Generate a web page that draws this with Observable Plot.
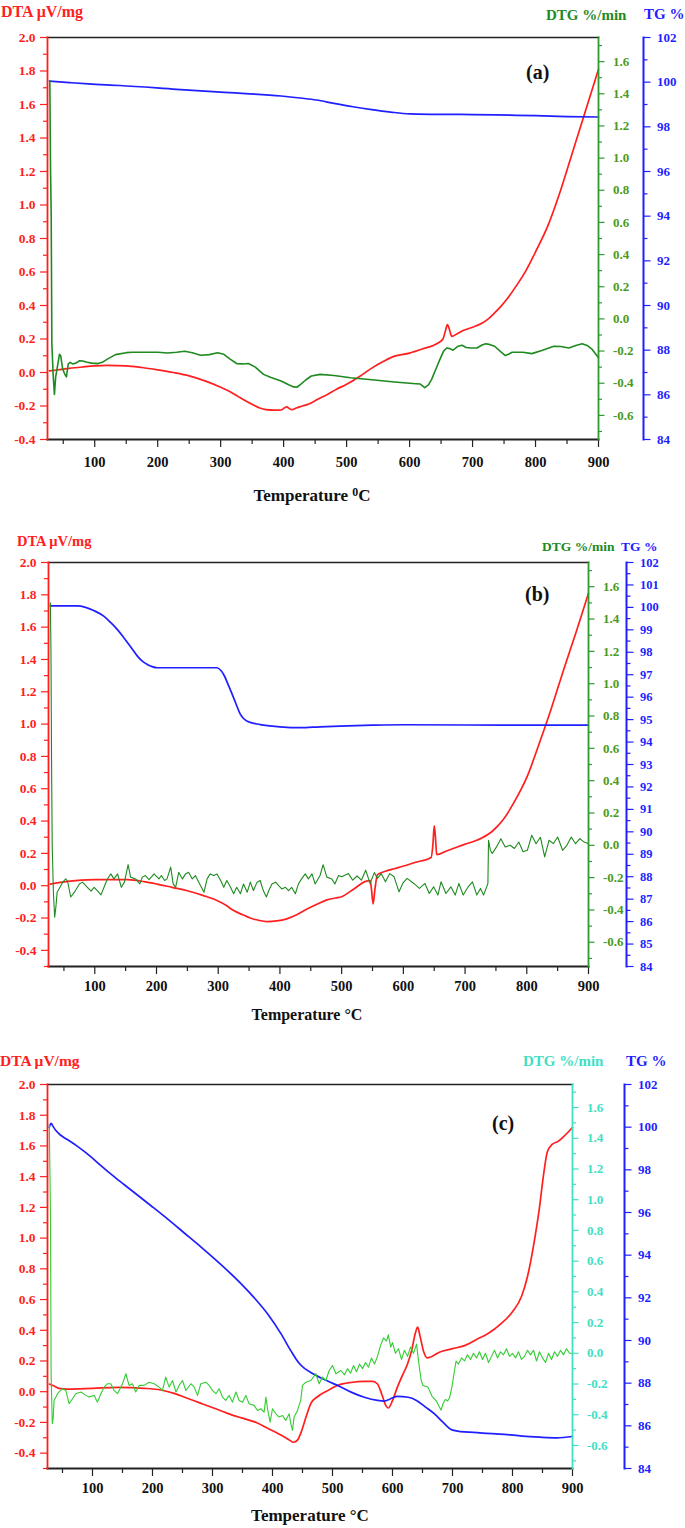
<!DOCTYPE html>
<html><head><meta charset="utf-8">
<script src="https://cdn.jsdelivr.net/npm/d3@7"></script>
<script src="https://cdn.jsdelivr.net/npm/@observablehq/plot@0.6"></script>
<style>
html,body{margin:0;padding:0;background:#fff;overflow:hidden}
#root{position:relative;width:685px;height:1528px;overflow:hidden;font-family:'Liberation Serif','Times New Roman',serif;font-weight:bold}
#root svg text{font-family:'Liberation Serif','Times New Roman',serif !important;font-weight:bold !important}
.lbl{position:absolute;white-space:nowrap;line-height:1;transform:translateY(-50%)}
.ctr{transform:translate(-50%,-50%)}
</style>
</head><body><div id="root"></div>
<script>
// ---------- tick labels ----------
const xTicks = [100,200,300,400,500,600,700,800,900];
const xMinor = [50,150,250,350,450,550,650,750,850];
const dtaTicks = [-0.4,-0.2,0,0.2,0.4,0.6,0.8,1.0,1.2,1.4,1.6,1.8,2.0];
const dtaMinor = [-0.5,-0.3,-0.1,0.1,0.3,0.5,0.7,0.9,1.1,1.3,1.5,1.7,1.9];
const dtgTicks = [-0.6,-0.4,-0.2,0,0.2,0.4,0.6,0.8,1.0,1.2,1.4,1.6];
const dtgMinor = [-0.7,-0.5,-0.3,-0.1,0.1,0.3,0.5,0.7,0.9,1.1,1.3,1.5,1.7];
const tgTicksEven = [84,86,88,90,92,94,96,98,100,102];
const tgMinorOdd = [85,87,89,91,93,95,97,99,101];
const tgTicksB = [84,85,86,87,88,89,90,91,92,93,94,95,96,97,98,99,100,101,102];
const tgMinorB = [84.5,85.5,86.5,87.5,88.5,89.5,90.5,91.5,92.5,93.5,94.5,95.5,96.5,97.5,98.5,99.5,100.5,101.5];

// ---------- panel (a) ----------
const dtaA = [[28,0.01],[40,0.015],[60,0.025],[80,0.033],[100,0.04],[120,0.042],[150,0.04],[175,0.03],[200,0.016],[225,0.0],[250,-0.02],[275,-0.05],[300,-0.088],[315,-0.115],[328,-0.144],[340,-0.17],[352,-0.194],[362,-0.212],[372,-0.222],[385,-0.225],[396,-0.224],[401,-0.212],[405,-0.205],[409,-0.215],[413,-0.222],[420,-0.212],[430,-0.2],[440,-0.188],[454,-0.16],[468,-0.134],[484,-0.1],[500,-0.07],[520,-0.025],[540,0.026],[558,0.065],[575,0.096],[600,0.116],[620,0.14],[645,0.176],[653,0.2],[657,0.25],[660,0.286],[663,0.26],[667,0.216],[675,0.23],[686,0.252],[700,0.27],[714,0.292],[725,0.32],[735,0.356],[745,0.395],[755,0.44],[770,0.52],[785,0.61],[800,0.72],[820,0.88],[840,1.09],[860,1.33],[880,1.57],[900,1.81]];
const dtgA = [[28.7,1.48],[29.8,0.93],[30.9,0.64],[31.9,-0.15],[34,-0.35],[36,-0.47],[38,-0.36],[41,-0.29],[44,-0.22],[46,-0.23],[49,-0.31],[52,-0.34],[55,-0.36],[58,-0.28],[61,-0.27],[65,-0.28],[70,-0.275],[76,-0.26],[81,-0.262],[88,-0.27],[95,-0.275],[105,-0.278],[112,-0.27],[120,-0.25],[133,-0.222],[150,-0.21],[160,-0.207],[200,-0.207],[216,-0.212],[230,-0.207],[243,-0.201],[255,-0.21],[268,-0.226],[282,-0.222],[295,-0.211],[305,-0.22],[315,-0.25],[326,-0.279],[335,-0.28],[344,-0.277],[355,-0.3],[368,-0.345],[380,-0.365],[396,-0.386],[408,-0.41],[416,-0.423],[421,-0.425],[427,-0.407],[435,-0.38],[444,-0.355],[458,-0.345],[480,-0.352],[506,-0.366],[540,-0.378],[576,-0.392],[610,-0.403],[617,-0.405],[624,-0.427],[630,-0.41],[635,-0.376],[642,-0.31],[648,-0.253],[654,-0.2],[659,-0.181],[664,-0.185],[669,-0.195],[676,-0.172],[683,-0.164],[690,-0.178],[697,-0.181],[707,-0.181],[715,-0.162],[721,-0.154],[728,-0.16],[735,-0.17],[745,-0.205],[752,-0.228],[757,-0.22],[763,-0.207],[780,-0.207],[794,-0.216],[810,-0.196],[829,-0.17],[840,-0.172],[853,-0.181],[864,-0.165],[874,-0.154],[882,-0.165],[890,-0.19],[900,-0.242]];
const tgA = [[28,100.05],[60,99.98],[90,99.92],[140,99.85],[230,99.68],[300,99.55],[396,99.38],[430,99.28],[452,99.2],[480,99.05],[510,98.9],[540,98.77],[570,98.66],[600,98.58],[640,98.56],[700,98.55],[760,98.52],[800,98.5],[850,98.46],[900,98.44]];

// ---------- panel (b) ----------
const dtaB = [[28,0.01],[56,0.027],[99,0.037],[153,0.037],[180,0.025],[201,0.01],[225,-0.01],[250,-0.031],[275,-0.06],[298,-0.092],[312,-0.12],[325,-0.154],[340,-0.18],[352,-0.2],[366,-0.215],[379,-0.222],[395,-0.218],[411,-0.205],[428,-0.178],[444,-0.144],[460,-0.115],[476,-0.088],[490,-0.076],[500,-0.068],[520,-0.02],[539,0.027],[546,0.031],[548,-0.01],[551,-0.113],[554,-0.02],[558,0.068],[571,0.089],[585,0.105],[599,0.12],[620,0.145],[645,0.175],[648,0.26],[650,0.37],[652,0.3],[654,0.192],[670,0.215],[698,0.254],[727,0.295],[745,0.34],[760,0.4],[780,0.52],[800,0.67],[822,0.9],[840,1.1],[860,1.34],[880,1.57],[900,1.81]];
const dtgB = [[28,1.5],[29,1.2],[30,0.5],[31,0.0],[33,-0.3],[35,-0.445],[37,-0.38],[39,-0.29],[42,-0.27],[48,-0.228],[53,-0.207],[56,-0.224],[61,-0.32],[67,-0.29],[75,-0.239],[80,-0.228],[88,-0.26],[94,-0.284],[99,-0.26],[104,-0.28],[110,-0.307],[115,-0.26],[120,-0.212],[126,-0.177],[131,-0.208],[137,-0.177],[143,-0.26],[148,-0.228],[154,-0.12],[158,-0.197],[166,-0.208],[173,-0.239],[177,-0.197],[182,-0.187],[188,-0.212],[196,-0.177],[204,-0.208],[208,-0.187],[213,-0.218],[217,-0.208],[223,-0.135],[227,-0.239],[231,-0.26],[236,-0.167],[242,-0.208],[247,-0.177],[252,-0.167],[258,-0.208],[263,-0.187],[270,-0.239],[277,-0.29],[282,-0.208],[287,-0.177],[293,-0.187],[298,-0.177],[304,-0.218],[309,-0.26],[314,-0.218],[320,-0.26],[325,-0.3],[330,-0.26],[336,-0.3],[341,-0.239],[347,-0.29],[352,-0.228],[357,-0.28],[363,-0.228],[368,-0.218],[373,-0.28],[378,-0.32],[382,-0.28],[387,-0.239],[393,-0.228],[398,-0.25],[403,-0.27],[409,-0.26],[414,-0.28],[419,-0.26],[425,-0.3],[430,-0.239],[435,-0.208],[441,-0.177],[446,-0.208],[452,-0.177],[457,-0.239],[465,-0.187],[470,-0.12],[476,-0.197],[484,-0.208],[489,-0.239],[495,-0.187],[500,-0.195],[511,-0.175],[518,-0.216],[525,-0.19],[532,-0.216],[539,-0.154],[546,-0.236],[553,-0.169],[558,-0.205],[564,-0.175],[571,-0.226],[578,-0.175],[585,-0.195],[593,-0.288],[599,-0.236],[606,-0.205],[617,-0.236],[626,-0.267],[635,-0.236],[642,-0.298],[649,-0.257],[656,-0.308],[661,-0.226],[669,-0.298],[677,-0.257],[684,-0.308],[690,-0.236],[697,-0.308],[705,-0.257],[712,-0.226],[719,-0.308],[725,-0.267],[730,-0.308],[737,-0.236],[738,0.031],[741,-0.03],[744,-0.051],[751,-0.01],[758,0.041],[765,-0.01],[773,0.0],[780,-0.02],[787,0.02],[794,-0.04],[801,-0.03],[808,0.062],[815,0.01],[822,0.05],[829,-0.072],[836,0.031],[843,0.01],[850,0.051],[858,-0.031],[865,0.0],[872,0.051],[879,0.01],[886,0.041],[893,0.02],[900,0.01]];
const tgB = [[28,100.07],[72,100.07],[99,99.85],[115,99.6],[126,99.32],[137,99.0],[147,98.65],[158,98.25],[169,97.83],[178,97.58],[185,97.46],[193,97.36],[201,97.31],[250,97.31],[298,97.31],[304,97.2],[309,97.0],[317,96.5],[325,95.97],[331,95.55],[336,95.23],[341,95.05],[347,94.93],[368,94.78],[400,94.68],[433,94.64],[465,94.68],[497,94.71],[550,94.75],[600,94.77],[700,94.76],[800,94.75],[900,94.75]];

// ---------- panel (c) ----------
const dtaC = [[28,0.05],[36,0.037],[44,0.022],[58,0.017],[100,0.022],[142,0.028],[186,0.022],[214,0.011],[236,-0.011],[258,-0.043],[281,-0.076],[303,-0.108],[325,-0.141],[347,-0.169],[369,-0.195],[392,-0.238],[414,-0.282],[428,-0.314],[435,-0.329],[442,-0.314],[447,-0.271],[456,-0.163],[464,-0.076],[475,-0.033],[492,0.007],[508,0.04],[531,0.06],[553,0.067],[567,0.067],[575,0.05],[582,-0.015],[589,-0.091],[593,-0.106],[600,-0.058],[608,0.028],[615,0.093],[625,0.18],[632,0.27],[638,0.38],[642,0.42],[646,0.36],[652,0.26],[658,0.22],[680,0.26],[700,0.28],[720,0.3],[740,0.34],[760,0.38],[780,0.44],[800,0.52],[815,0.62],[825,0.75],[835,0.95],[845,1.2],[852,1.42],[858,1.56],[866,1.61],[876,1.63],[885,1.66],[900,1.72]];
const dtgC = [[28,1.49],[30,0.9],[31,-0.13],[33,-0.458],[34.5,-0.42],[36,-0.307],[41.7,-0.263],[47,-0.242],[50,-0.231],[55.6,-0.242],[61,-0.328],[66.7,-0.296],[72,-0.263],[80.6,-0.252],[89,-0.274],[94.4,-0.285],[102.8,-0.274],[108.3,-0.318],[114,-0.263],[119.4,-0.22],[125,-0.198],[130.6,-0.198],[136,-0.242],[141.7,-0.263],[150,-0.198],[155.6,-0.133],[161,-0.209],[166.7,-0.198],[172,-0.252],[177.8,-0.209],[186,-0.209],[194.4,-0.188],[202.8,-0.198],[211,-0.22],[216.7,-0.242],[222,-0.155],[227.8,-0.22],[233.3,-0.177],[239,-0.252],[244.4,-0.209],[250,-0.177],[255.6,-0.242],[264,-0.198],[269.4,-0.22],[275,-0.274],[280.6,-0.198],[289,-0.188],[294.4,-0.209],[300,-0.242],[305.6,-0.263],[311,-0.231],[316.7,-0.285],[322,-0.307],[327.8,-0.274],[333.3,-0.318],[339,-0.252],[344.4,-0.307],[350,-0.318],[355.6,-0.274],[361,-0.328],[369.4,-0.339],[375,-0.372],[380.6,-0.361],[386,-0.383],[389,-0.285],[391.7,-0.361],[396,-0.448],[400,-0.361],[405.6,-0.394],[411,-0.415],[416.7,-0.405],[422,-0.437],[427.8,-0.394],[430.6,-0.459],[433.3,-0.502],[436,-0.415],[441.7,-0.372],[447,-0.307],[450,-0.209],[455.6,-0.188],[464,-0.177],[472,-0.133],[477.8,-0.198],[483.3,-0.155],[489,-0.177],[494.4,-0.112],[500,-0.079],[505.6,-0.133],[514,-0.112],[520,-0.14],[525,-0.1],[530,-0.13],[535,-0.08],[540,-0.12],[545,-0.07],[550,-0.1],[555,-0.06],[560,-0.09],[565,-0.03],[570,-0.07],[575,-0.02],[580,0.05],[585,0.1],[590,0.08],[593,0.12],[597,0.04],[600,0.07],[605,0.0],[610,0.03],[615,-0.04],[620,0.02],[625,-0.02],[630,0.04],[635,0.0],[640,0.06],[645,-0.1],[648,-0.18],[651,-0.21],[659,-0.22],[666,-0.28],[673,-0.31],[681,-0.37],[684,-0.33],[688,-0.3],[692,-0.31],[695,-0.29],[699,-0.22],[703,-0.12],[706,-0.05],[710,-0.07],[715,-0.03],[720,-0.05],[725,-0.01],[730,-0.04],[735,0.0],[740,-0.03],[745,0.01],[750,-0.04],[755,0.0],[760,-0.06],[765,-0.02],[770,0.02],[775,-0.03],[780,0.01],[785,-0.01],[790,0.03],[795,-0.02],[800,0.0],[805,-0.03],[810,0.01],[815,-0.04],[820,-0.02],[825,0.02],[830,-0.01],[835,0.02],[840,-0.05],[845,0.01],[850,-0.03],[855,-0.06],[860,0.0],[865,-0.04],[870,0.01],[875,-0.02],[880,0.02],[885,-0.01],[890,0.03],[895,0.0],[900,0.0]];
const tgC = [[28,100.0],[31,100.18],[34,100.05],[39,99.84],[47,99.62],[58,99.42],[75,99.1],[97,98.62],[114,98.2],[136,97.68],[153,97.3],[169,96.95],[197,96.33],[225,95.7],[253,95.04],[281,94.38],[303,93.84],[325,93.28],[347,92.68],[369,92.02],[392,91.24],[414,90.32],[431,89.5],[440,89.1],[447,88.85],[469,88.42],[492,88.1],[514,87.82],[531,87.58],[553,87.34],[575,87.19],[586,87.16],[597,87.27],[608,87.38],[626,87.34],[640,87.19],[655,86.88],[670,86.56],[684,86.17],[699,85.81],[714,85.73],[735,85.69],[750,85.66],[787,85.6],[816,85.52],[845,85.47],[874,85.44],[900,85.5]];

// ---------- colours ----------
const RED = "#ff1f1f", BLUE = "#1f1fff", INK = "#222";
const f1 = d => d.toFixed(1);
const FONT = {fontFamily:"Liberation Serif, Times New Roman, serif", fontWeight:"bold"};

const panels = [
  {top:0, h:470, mt:37, mb:31, ml:47, mr:87, tgDx:45, xpad:9, dtaDom:[-0.4,2.0],
   dta:dtaA, dtg:dtgA, tg:tgA, dtgLine:"#1f8a1f", dtgAx:"#2f9a2f", dtgTxt:"#4a9a1e", dtgW:1.6,
   tgTicks:tgTicksEven, tgMinor:tgMinorOdd, tgFs:13},
  {top:530, h:470, mt:32, mb:34, ml:48, mr:97, tgDx:38, xpad:6, dtaDom:[-0.5,2.0],
   dta:dtaB, dtg:dtgB, tg:tgB, dtgLine:"#1f8a1f", dtgAx:"#2f9a2f", dtgTxt:"#4a9a1e", dtgW:1.1,
   tgTicks:tgTicksB, tgMinor:tgMinorB, tgFs:12.5},
  {top:1050, h:450, mt:34, mb:32, ml:47, mr:113, tgDx:52, xpad:6, dtaDom:[-0.5,2.0],
   dta:dtaC, dtg:dtgC, tg:tgC, dtgLine:"#33cc33", dtgAx:"#3fe0c4", dtgTxt:"#3fe0c4", dtgW:1.1,
   tgTicks:tgTicksEven, tgMinor:tgMinorOdd, tgFs:13}
];

const root = document.getElementById("root");
const STYLE = "background:transparent;overflow:visible;font-family:'Liberation Serif','Times New Roman',serif;font-weight:bold;font-size:13px;";

function place(svg, top) {
  svg.style.position = "absolute";
  svg.style.left = "0px";
  svg.style.top = top + "px";
  root.appendChild(svg);
}
function base(p, ydom, xAxisOff) {
  return {width:685, height:p.h, marginTop:p.mt, marginBottom:p.mb, marginLeft:p.ml, marginRight:p.mr,
    x:{domain:[25,900], ...(xAxisOff ? {axis:null} : {})}, y:{domain:ydom}, style:STYLE};
}

for (const p of panels) {
  const dMinor = dtaMinor.filter(v => v >= p.dtaDom[0]);
  // DTA layer (left axis + x axis)
  place(Plot.plot({...base(p, p.dtaDom, false), marks:[
    Plot.frame({anchor:"top", stroke:INK, strokeWidth:1.6}),
    Plot.axisX({ticks:xMinor, tickSize:5, stroke:INK, fill:"none", label:null, strokeWidth:1.2}),
    Plot.axisX({ticks:xTicks, tickSize:8, tickPadding:p.xpad, stroke:INK, fill:"#111", fontSize:14.5, ...FONT, label:null, strokeWidth:1.2, tickFormat:d=>String(d)}),
    Plot.axisY({ticks:dMinor, anchor:"left", tickSize:4, stroke:RED, fill:"none", label:null, strokeWidth:1.2}),
    Plot.axisY({ticks:dtaTicks, anchor:"left", tickSize:7, tickPadding:5, stroke:RED, fill:RED, fontSize:13.5, ...FONT, label:null, strokeWidth:1.2, tickFormat:f1}),
    Plot.line(p.dta, {x:d=>d[0], y:d=>d[1], stroke:RED, strokeWidth:1.7, curve:"monotone-x"}),
    Plot.frame({anchor:"bottom", stroke:INK, strokeWidth:1.8}),
    Plot.frame({anchor:"left", stroke:RED, strokeWidth:1.8})
  ]}), p.top);
  // TG layer (outer right axis)
  place(Plot.plot({...base(p, [84,102], true), marks:[
    Plot.axisY({ticks:p.tgMinor, anchor:"right", dx:p.tgDx, tickSize:3.5, stroke:BLUE, fill:"none", label:null, strokeWidth:1.2}),
    Plot.axisY({ticks:p.tgTicks, anchor:"right", dx:p.tgDx, tickSize:6.5, tickPadding:7, stroke:BLUE, fill:BLUE, fontSize:p.tgFs, ...FONT, label:null, strokeWidth:1.2, tickFormat:d=>String(d)}),
    Plot.frame({anchor:"right", dx:p.tgDx, stroke:BLUE, strokeWidth:2}),
    Plot.line(p.tg, {x:d=>d[0], y:d=>d[1], stroke:BLUE, strokeWidth:1.7, curve:"monotone-x"})
  ]}), p.top);
  // DTG layer (inner right axis)
  place(Plot.plot({...base(p, [-0.75,1.75], true), marks:[
    Plot.axisY({ticks:dtgMinor, anchor:"right", tickSize:3, stroke:p.dtgAx, fill:"none", label:null, strokeWidth:1.2}),
    Plot.axisY({ticks:dtgTicks, anchor:"right", tickSize:5.5, tickPadding:9, stroke:p.dtgAx, fill:p.dtgTxt, fontSize:13, ...FONT, label:null, strokeWidth:1.2, tickFormat:f1}),
    Plot.line(p.dtg, {x:d=>d[0], y:d=>d[1], stroke:p.dtgLine, strokeWidth:p.dtgW}),
    Plot.frame({anchor:"right", stroke:p.dtgAx, strokeWidth:1.8})
  ]}), p.top);
}

// ---------- titles ----------
const labels = [
  {t:"DTA μV/mg", x:1, y:12, c:"#ff2020", s:16},
  {t:"DTG %/min", x:546, y:15, c:"#1f8a1f", s:15},
  {t:"TG %", x:644, y:14, c:BLUE, s:15},
  {t:"(a)", x:526, y:72, c:"#111", s:20},
  {h:"Temperature <span style='position:relative;top:-0.45em;font-size:0.7em'>0</span>C", x:312, y:495, c:"#111", s:17, ctr:true},
  {t:"DTA μV/mg", x:17, y:541, c:"#ff2020", s:14.5},
  {t:"DTG %/min", x:542, y:547, c:"#1f8a1f", s:13.5},
  {t:"TG %", x:621, y:547, c:BLUE, s:13.5},
  {t:"(b)", x:525, y:594, c:"#111", s:20},
  {t:"Temperature °C", x:307, y:1015, c:"#111", s:16, ctr:true},
  {t:"DTA μV/mg", x:0, y:1061, c:"#ff2020", s:15.5},
  {t:"DTG %/min", x:523, y:1061, c:"#3fe0c4", s:15},
  {t:"TG %", x:626, y:1061, c:BLUE, s:15},
  {t:"(c)", x:492, y:1123, c:"#111", s:20},
  {t:"Temperature °C", x:310, y:1515, c:"#111", s:17, ctr:true}
];
for (const l of labels) {
  const d = document.createElement("div");
  d.className = "lbl" + (l.ctr ? " ctr" : "");
  d.style.left = l.x + "px"; d.style.top = l.y + "px";
  d.style.color = l.c; d.style.fontSize = l.s + "px";
  if (l.h) d.innerHTML = l.h; else d.textContent = l.t;
  root.appendChild(d);
}
</script>
</body></html>
